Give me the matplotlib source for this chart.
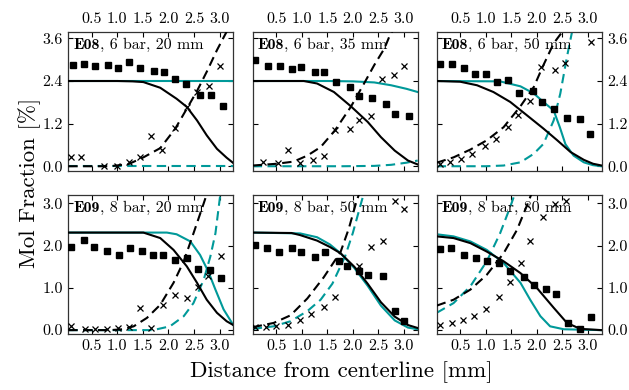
import matplotlib
matplotlib.use("Agg")
import matplotlib.pyplot as plt

plt.rcParams['font.family'] = ['cmr10', 'DejaVu Serif']
plt.rcParams['mathtext.fontset'] = 'cm'
plt.rcParams['axes.formatter.use_mathtext'] = True

TEAL = '#009999'

tag_bold = ['E08', 'E08', 'E08', 'E09', 'E09', 'E09']
tag_rest = [', 6 bar, 20 mm', ', 6 bar, 35 mm', ', 6 bar, 50 mm',
            ', 8 bar, 20 mm', ', 8 bar, 50 mm', ', 8 bar, 80 mm']
xticks = [0.5, 1.0, 1.5, 2.0, 2.5, 3.0]
yticks_top = [0.0, 1.2, 2.4, 3.6]
yticks_bot = [0.0, 1.0, 2.0, 3.0]

# ---- Panel 1: E08, 6 bar, 20 mm
sq1_x = [0.13, 0.34, 0.57, 0.81, 1.02, 1.23, 1.45, 1.71, 1.92, 2.12, 2.35, 2.62, 2.83, 3.07]
sq1_y = [2.84, 2.89, 2.82, 2.84, 2.78, 2.94, 2.78, 2.67, 2.65, 2.47, 2.31, 2.00, 2.00, 1.70]
cr1_x = [0.10, 0.29, 0.73, 1.00, 1.22, 1.45, 1.66, 1.87, 2.12, 2.36, 2.56, 2.80, 3.01]
cr1_y = [0.25, 0.25, 0.00, 0.02, 0.11, 0.27, 0.84, 0.47, 1.08, 1.67, 2.09, 2.25, 2.82]
bs1_x = [0.04, 1.00, 1.30, 1.51, 1.84, 2.16, 2.36, 2.56, 2.75, 2.95, 3.14, 3.27]
bs1_y = [2.40, 2.40, 2.39, 2.37, 2.21, 1.90, 1.67, 1.29, 0.87, 0.49, 0.24, 0.09]
bd1_x = [0.04, 0.86, 1.22, 1.51, 1.84, 2.13, 2.36, 2.56, 2.75, 2.95, 3.14, 3.30]
bd1_y = [0.00, 0.00, 0.06, 0.25, 0.51, 1.05, 1.62, 2.12, 2.66, 3.27, 3.79, 4.10]
ts1_x = [0.04, 3.27]
ts1_y = [2.40, 2.40]
td1_x = [0.04, 3.27]
td1_y = [0.00, 0.00]

# ---- Panel 2: E08, 6 bar, 35 mm
sq2_x = [0.09, 0.34, 0.58, 0.81, 0.99, 1.26, 1.43, 1.68, 1.95, 2.13, 2.37, 2.64, 2.82, 3.09]
sq2_y = [2.99, 2.83, 2.83, 2.73, 2.80, 2.64, 2.64, 2.38, 2.24, 1.97, 1.91, 1.74, 1.46, 1.41]
cr2_x = [0.25, 0.53, 0.74, 0.97, 1.22, 1.43, 1.65, 1.95, 2.12, 2.36, 2.57, 2.80, 3.01]
cr2_y = [0.13, 0.08, 0.46, 0.09, 0.18, 0.30, 1.03, 1.06, 1.29, 1.41, 2.45, 2.57, 2.83]
bs2_x = [0.04, 1.04, 1.30, 1.63, 1.96, 2.29, 2.55, 2.82, 3.08, 3.27]
bs2_y = [2.40, 2.40, 2.33, 2.09, 1.69, 1.25, 0.82, 0.44, 0.16, 0.05]
bd2_x = [0.04, 0.51, 0.84, 1.11, 1.37, 1.65, 1.96, 2.22, 2.42, 2.62, 2.72, 2.85]
bd2_y = [0.02, 0.07, 0.13, 0.30, 0.54, 1.01, 1.67, 2.33, 2.85, 3.32, 3.67, 4.00]
ts2_x = [0.04, 1.50, 2.00, 2.42, 2.75, 3.05, 3.27]
ts2_y = [2.40, 2.40, 2.39, 2.36, 2.28, 2.18, 2.09]
td2_x = [0.04, 1.80, 2.42, 2.75, 3.05, 3.27]
td2_y = [0.00, 0.00, 0.01, 0.04, 0.10, 0.16]

# ---- Panel 3: E08, 6 bar, 50 mm
sq3_x = [0.10, 0.34, 0.57, 0.78, 1.01, 1.23, 1.43, 1.66, 1.92, 2.11, 2.33, 2.59, 2.84, 3.05]
sq3_y = [2.89, 2.89, 2.77, 2.61, 2.61, 2.38, 2.44, 2.06, 2.12, 1.81, 1.60, 1.37, 1.32, 0.91]
cr3_x = [0.10, 0.30, 0.52, 0.74, 0.99, 1.21, 1.43, 1.63, 1.87, 2.08, 2.35, 2.56, 3.06]
cr3_y = [0.07, 0.13, 0.21, 0.35, 0.57, 0.77, 1.10, 1.43, 1.84, 2.80, 2.70, 2.92, 3.49]
bs3_x = [0.04, 0.50, 0.83, 1.15, 1.48, 1.81, 2.13, 2.40, 2.66, 2.92, 3.10, 3.27]
bs3_y = [2.40, 2.38, 2.28, 2.09, 1.81, 1.43, 1.06, 0.73, 0.40, 0.18, 0.07, 0.02]
bd3_x = [0.04, 0.37, 0.70, 1.02, 1.35, 1.68, 1.94, 2.13, 2.33, 2.49, 2.60]
bd3_y = [0.10, 0.25, 0.47, 0.73, 1.10, 1.69, 2.23, 2.85, 3.46, 3.77, 4.00]
ts3_x = [0.04, 1.28, 1.68, 1.94, 2.13, 2.33, 2.45, 2.56, 2.72, 2.92, 3.10, 3.27]
ts3_y = [2.40, 2.39, 2.25, 2.05, 1.81, 1.57, 1.10, 0.62, 0.30, 0.11, 0.03, 0.00]
td3_x = [0.04, 1.00, 1.35, 1.68, 1.94, 2.13, 2.33, 2.46, 2.59, 2.69, 2.75]
td3_y = [0.00, 0.00, 0.02, 0.11, 0.35, 0.63, 1.29, 2.05, 3.08, 3.79, 4.20]

# ---- Panel 4: E09, 8 bar, 20 mm
sq4_x = [0.10, 0.35, 0.55, 0.79, 1.04, 1.24, 1.48, 1.69, 1.89, 2.13, 2.36, 2.58, 2.82, 3.03]
sq4_y = [1.98, 2.14, 1.98, 1.88, 1.78, 1.94, 1.88, 1.78, 1.78, 1.67, 1.70, 1.45, 1.43, 1.23]
cr4_x = [0.10, 0.37, 0.57, 0.79, 1.02, 1.22, 1.45, 1.66, 1.90, 2.12, 2.36, 2.57, 2.78, 3.03]
cr4_y = [0.09, 0.02, 0.03, 0.03, 0.04, 0.08, 0.53, 0.05, 0.60, 0.82, 0.76, 1.02, 1.27, 1.76]
bs4_x = [0.04, 1.51, 1.84, 2.10, 2.36, 2.56, 2.75, 2.95, 3.14, 3.27]
bs4_y = [2.31, 2.31, 2.18, 1.90, 1.51, 1.12, 0.72, 0.41, 0.21, 0.12]
bd4_x = [0.04, 0.86, 1.10, 1.32, 1.58, 1.84, 2.10, 2.30, 2.49, 2.69, 2.80]
bd4_y = [0.00, 0.00, 0.02, 0.09, 0.29, 0.60, 1.12, 1.63, 2.29, 3.00, 3.40]
ts4_x = [0.04, 1.97, 2.16, 2.43, 2.62, 2.78, 2.92, 3.08, 3.27]
ts4_y = [2.31, 2.31, 2.27, 2.10, 1.78, 1.39, 0.96, 0.49, 0.12]
td4_x = [0.04, 1.70, 2.03, 2.30, 2.49, 2.69, 2.82, 2.92, 3.01, 3.05]
td4_y = [0.00, 0.00, 0.09, 0.33, 0.64, 1.19, 1.74, 2.29, 3.16, 3.40]

# ---- Panel 5: E09, 8 bar, 50 mm
sq5_x = [0.09, 0.32, 0.56, 0.80, 0.99, 1.25, 1.45, 1.72, 1.89, 2.13, 2.30, 2.59, 2.82, 3.01]
sq5_y = [2.02, 1.94, 1.85, 1.94, 1.85, 1.74, 1.84, 1.63, 1.52, 1.41, 1.31, 1.29, 0.46, 0.21]
cr5_x = [0.09, 0.30, 0.50, 0.74, 0.96, 1.19, 1.43, 1.65, 2.13, 2.36, 2.59, 2.82, 3.01]
cr5_y = [0.07, 0.07, 0.09, 0.13, 0.24, 0.37, 0.55, 0.79, 1.52, 1.98, 2.12, 3.06, 2.88]
bs5_x = [0.04, 0.80, 0.97, 1.30, 1.55, 1.76, 2.03, 2.29, 2.55, 2.82, 3.08, 3.27]
bs5_y = [2.31, 2.30, 2.25, 2.12, 1.97, 1.82, 1.50, 1.10, 0.66, 0.32, 0.12, 0.05]
bd5_x = [0.04, 0.45, 0.78, 1.11, 1.43, 1.76, 1.92, 2.06, 2.20]
bd5_y = [0.07, 0.17, 0.35, 0.75, 1.25, 1.85, 2.40, 3.00, 3.50]
ts5_x = [0.04, 0.97, 1.30, 1.55, 1.76, 2.03, 2.29, 2.55, 2.82, 3.08, 3.27]
ts5_y = [2.31, 2.29, 2.20, 2.03, 1.82, 1.47, 1.05, 0.58, 0.23, 0.06, 0.02]
td5_x = [0.04, 0.45, 0.78, 1.11, 1.37, 1.60, 1.85, 2.00, 2.16, 2.30]
td5_y = [0.03, 0.09, 0.21, 0.45, 0.72, 1.10, 1.75, 2.30, 3.00, 3.60]

# ---- Panel 6: E09, 8 bar, 80 mm
sq6_x = [0.10, 0.32, 0.57, 0.81, 1.02, 1.26, 1.47, 1.74, 1.94, 2.17, 2.38, 2.62, 2.84, 3.06]
sq6_y = [1.92, 1.94, 1.78, 1.70, 1.64, 1.60, 1.41, 1.26, 1.08, 0.97, 0.86, 0.17, 0.03, 0.31]
cr6_x = [0.10, 0.34, 0.55, 0.77, 1.00, 1.25, 1.47, 1.70, 1.87, 2.12, 2.35, 2.58]
cr6_y = [0.12, 0.16, 0.23, 0.33, 0.51, 0.79, 1.14, 1.59, 2.10, 2.67, 2.98, 3.06]
bs6_x = [0.04, 0.37, 0.70, 1.02, 1.35, 1.68, 2.00, 2.33, 2.59, 2.85, 3.27]
bs6_y = [2.22, 2.18, 2.06, 1.86, 1.63, 1.35, 1.00, 0.53, 0.17, 0.03, 0.00]
bd6_x = [0.04, 0.37, 0.70, 1.02, 1.35, 1.61, 1.81, 1.95]
bd6_y = [0.58, 0.72, 0.96, 1.31, 1.82, 2.37, 2.96, 3.40]
ts6_x = [0.04, 0.37, 0.70, 1.02, 1.35, 1.68, 1.87, 2.07, 2.26, 2.53, 3.27]
ts6_y = [2.27, 2.22, 2.10, 1.90, 1.59, 1.12, 0.72, 0.33, 0.09, 0.02, 0.00]
td6_x = [0.04, 0.37, 0.70, 1.02, 1.28, 1.48, 1.62]
td6_y = [0.41, 0.64, 1.04, 1.63, 2.29, 2.92, 3.40]

panels = [
    (sq1_x, sq1_y, cr1_x, cr1_y, bs1_x, bs1_y, bd1_x, bd1_y, ts1_x, ts1_y, td1_x, td1_y),
    (sq2_x, sq2_y, cr2_x, cr2_y, bs2_x, bs2_y, bd2_x, bd2_y, ts2_x, ts2_y, td2_x, td2_y),
    (sq3_x, sq3_y, cr3_x, cr3_y, bs3_x, bs3_y, bd3_x, bd3_y, ts3_x, ts3_y, td3_x, td3_y),
    (sq4_x, sq4_y, cr4_x, cr4_y, bs4_x, bs4_y, bd4_x, bd4_y, ts4_x, ts4_y, td4_x, td4_y),
    (sq5_x, sq5_y, cr5_x, cr5_y, bs5_x, bs5_y, bd5_x, bd5_y, ts5_x, ts5_y, td5_x, td5_y),
    (sq6_x, sq6_y, cr6_x, cr6_y, bs6_x, bs6_y, bd6_x, bd6_y, ts6_x, ts6_y, td6_x, td6_y),
]

W, H = 629, 390
fig = plt.figure(figsize=(W / 100, H / 100), dpi=100)

lefts = [68.3, 252.7, 436.7]
aw = 165.0
tops = [32.0, 195.0]
ah = 138.5

for i, data in enumerate(panels):
    r, c = divmod(i, 3)
    rect = [lefts[c] / W, 1 - (tops[r] + ah) / H, aw / W, ah / H]
    ax = fig.add_axes(rect)
    sqx, sqy, crx, cry, bsx, bsy, bdx, bdy, tsx, tsy, tdx, tdy = data
    ax.plot(tsx, tsy, color=TEAL, lw=1.5, zorder=2)
    ax.plot(tdx, tdy, color=TEAL, lw=1.5, dashes=(4.5, 2.6), zorder=2)
    ax.plot(bsx, bsy, color='black', lw=1.5, zorder=3)
    ax.plot(bdx, bdy, color='black', lw=1.5, dashes=(4.5, 2.6), zorder=3)
    ax.plot(sqx, sqy, ls='none', marker='s', ms=5, color='black', zorder=4)
    ax.plot(crx, cry, ls='none', marker='x', ms=5, mew=0.9, color='black', zorder=4)
    ax.set_xlim(0.04, 3.27)
    ax.set_xticks(xticks)
    if r == 0:
        ax.set_ylim(-0.12, 3.78)
        ax.set_yticks(yticks_top)
        ax.set_yticklabels(['%.1f' % v for v in yticks_top])
    else:
        ax.set_ylim(-0.08, 3.2)
        ax.set_yticks(yticks_bot)
        ax.set_yticklabels(['%.1f' % v for v in yticks_bot])
    ax.set_xticklabels(['%.1f' % v for v in xticks])
    ax.tick_params(direction='in', top=True, right=True, length=3.5, width=0.8,
                   labelsize=11.5, pad=4,
                   labeltop=(r == 0), labelbottom=(r == 1),
                   labelleft=(c == 0), labelright=(c == 2))
    for s in ax.spines.values():
        s.set_linewidth(0.9)
        s.set_color('#333333')
    tb = ax.text(0.03, 0.955, tag_bold[i], transform=ax.transAxes, ha='left', va='top',
                 fontsize=11.5, family='cmb10', zorder=5)
    ax.annotate(tag_rest[i], xy=(1.0, 0.0), xycoords=tb, ha='left', va='bottom',
                fontsize=11.5, zorder=5)

fig.text(30 / W, 1 - 183 / H, 'Mol Fraction [%]', rotation=90, ha='center', va='center', fontsize=16.5)
fig.text(341 / W, 1 - 372 / H, 'Distance from centerline [mm]', ha='center', va='center', fontsize=16.5)

fig.savefig('out.png', dpi=100)
